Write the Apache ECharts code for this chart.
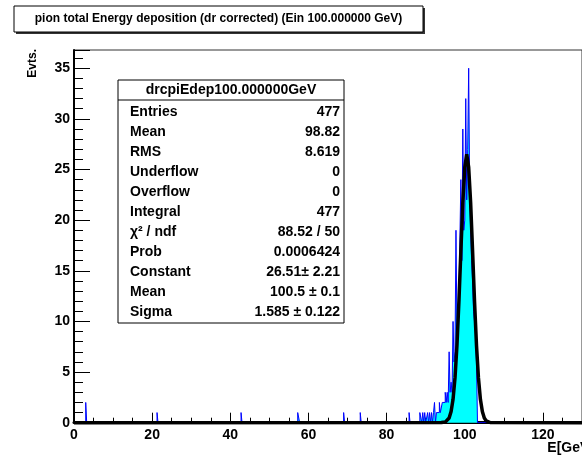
<!DOCTYPE html>
<html>
<head>
<meta charset="utf-8">
<script src="https://cdn.jsdelivr.net/npm/echarts@6/dist/echarts.min.js"></script>
<style>
  html, body { margin: 0; padding: 0; background: #fff; overflow: hidden; }
  #chart { width: 582px; height: 459px; }
</style>
</head>
<body>
<div id="chart"></div>
<script>
// histogram: lower bin edges (GeV) and entries, bin width 0.25 GeV
const binWidth = 0.25
const binLow = [
  3.0, 21.25, 42.75, 57.25, 57.5, 69.0, 73.25, 85.75,
  88.5, 88.75, 89.25, 89.75, 90.5, 91.0, 91.5, 92.0, 92.25, 92.75,
  93.0, 93.25, 93.5, 93.75, 94.0, 94.25, 94.5, 94.75, 95.0, 95.25, 95.5, 95.75,
  96.0, 96.25, 96.5, 96.75, 97.0, 97.25, 97.5, 97.75,
  98.0, 98.25, 98.5, 98.75, 99.0, 99.25, 99.5, 99.75,
  100.0, 100.25, 100.5, 100.75, 101.0, 101.25, 101.5, 101.75,
  102.0, 102.25, 102.5, 102.75, 103.0
]
const binCount = [
  2, 1, 1, 1, 1, 1, 1, 1,
  1, 1, 1, 1, 1, 1, 1, 1, 2, 1,
  1, 1, 2, 1, 1, 2, 2, 2, 3, 2, 3, 2,
  7, 3, 4, 3, 10, 6, 7, 19,
  9, 11, 12, 12, 24, 16, 29, 19,
  20, 32, 22, 27, 35, 23, 19, 16,
  14, 11, 10, 9, 6
]

// gaussian fit curve
const fitX = [0, 94, 94.5, 95, 95.5, 96, 96.5, 97, 97.5, 98, 98.5, 99, 99.5, 100, 100.5,
  101, 101.5, 102, 102.5, 103, 103.5, 104, 104.5, 105, 105.5, 106, 106.5, 107, 130]
const fitY = [0, 0.01, 0.02, 0.06, 0.18, 0.47, 1.10, 2.31, 4.42, 7.64, 11.96, 16.94, 21.73, 25.22, 26.51,
  25.22, 21.73, 16.94, 11.96, 7.64, 4.42, 2.31, 1.10, 0.47, 0.18, 0.06, 0.02, 0.01, 0]

const xMin = 0
const xMax = 130
const yMax = 36.8

const titleText = 'pion total Energy deposition (dr corrected) (Ein 100.000000 GeV)'
const statsTitle = 'drcpiEdep100.000000GeV'
const statNames = ['Entries', 'Mean', 'RMS', 'Underflow', 'Overflow', 'Integral',
  'χ² / ndf', 'Prob', 'Constant', 'Mean', 'Sigma']
const statValues = ['477', '98.82', '8.619', '0', '0', '477',
  '88.52 / 50', '0.0006424', '26.51± 2.21', '100.5 ± 0.1', '1.585 ± 0.122']

const font = '"Liberation Sans", Arial, Helvetica, sans-serif'

const histPoints = [[xMin, 0]]
binLow.forEach((lo, i) => {
  histPoints.push([lo, binCount[i]])
  const next = binLow[i + 1]
  if (next === undefined || Math.abs(next - (lo + binWidth)) > 1e-6) {
    histPoints.push([lo + binWidth, 0])
  }
})
histPoints.push([xMax, 0])

const fitPoints = fitX.map((x, i) => [x, fitY[i]])

const statsLeft = 118
const statsTop = 80
const statsRight = 344
const statsBottom = 323

const statsTexts = []
statNames.forEach((name, i) => {
  const y = 111.7 + 20 * i
  statsTexts.push({
    type: 'text', x: 130, y: y,
    style: { text: name, fill: '#000', font: 'bold 14px ' + font, align: 'left', verticalAlign: 'middle' },
  })
  statsTexts.push({
    type: 'text', x: 340, y: y,
    style: { text: statValues[i], fill: '#000', font: 'bold 14px ' + font, align: 'right', verticalAlign: 'middle' },
  })
})

const chart = echarts.init(document.getElementById('chart'), null, { renderer: 'canvas' })

chart.setOption({
  animation: false,
  backgroundColor: '#fff',
  grid: {
    left: 74, top: 50, width: 520, height: 372.7,
    show: true, borderColor: '#333', borderWidth: 1, backgroundColor: 'transparent',
  },
  xAxis: {
    type: 'value', min: xMin, max: xMax, interval: 20,
    axisLine: { show: true, onZero: false, lineStyle: { color: '#000', width: 3 } },
    axisTick: { show: true, inside: true, length: 10, lineStyle: { color: '#000', width: 1 } },
    minorTick: { show: true, splitNumber: 4, length: 5, lineStyle: { color: '#000', width: 1 } },
    splitLine: { show: false },
    axisLabel: {
      color: '#000', fontWeight: 'bold', fontSize: 14, fontFamily: font, margin: 5,
      showMaxLabel: false,
    },
  },
  yAxis: {
    type: 'value', min: 0, max: yMax, interval: 5,
    axisLine: { show: true, lineStyle: { color: '#000', width: 2 } },
    axisTick: { show: true, inside: true, length: 16, lineStyle: { color: '#000', width: 1 } },
    minorTick: { show: true, splitNumber: 5, length: 9, lineStyle: { color: '#000', width: 1 } },
    splitLine: { show: false },
    axisLabel: {
      color: '#000', fontWeight: 'bold', fontSize: 14, fontFamily: font, margin: 4,
      showMaxLabel: false,
    },
  },
  series: [
    {
      name: 'hist',
      type: 'line',
      step: 'end',
      data: histPoints,
      showSymbol: false,
      lineStyle: { color: '#0000ff', width: 1 },
      areaStyle: { color: '#00ffff', opacity: 1 },
      z: 2,
    },
    {
      name: 'fit',
      type: 'line',
      data: fitPoints,
      showSymbol: false,
      clip: false,
      lineStyle: { color: '#000', width: 3.5 },
      z: 3,
    },
  ],
  graphic: [
    // title box with shadow
    { type: 'rect', shape: { x: 16, y: 8, width: 409, height: 26 }, style: { fill: '#333' }, z: 10 },
    { type: 'rect', shape: { x: 14, y: 6, width: 409, height: 26 }, style: { fill: '#fff', stroke: '#000', lineWidth: 1 }, z: 11 },
    {
      type: 'text', x: 218.5, y: 19, z: 12,
      style: { text: titleText, fill: '#000', font: 'bold 12px ' + font, align: 'center', verticalAlign: 'middle' },
    },
    // y axis title
    {
      type: 'text', x: 33, y: 49, rotation: Math.PI / 2, z: 12,
      style: { text: 'Evts.', fill: '#000', font: 'bold 12px ' + font, align: 'right', verticalAlign: 'middle' },
    },
    // x axis title
    {
      type: 'text', x: 594, y: 448, z: 12,
      style: { text: 'E[GeV]', fill: '#000', font: 'bold 14px ' + font, align: 'right', verticalAlign: 'middle' },
    },
    // stats box
    {
      type: 'group', z: 20,
      children: [
        { type: 'rect', shape: { x: statsLeft, y: statsTop, width: statsRight - statsLeft, height: statsBottom - statsTop },
          style: { fill: '#fff', stroke: '#000', lineWidth: 1 } },
        { type: 'line', shape: { x1: statsLeft, y1: 100, x2: statsRight, y2: 100 }, style: { stroke: '#000', lineWidth: 1 } },
        { type: 'text', x: 231, y: 90,
          style: { text: statsTitle, fill: '#000', font: 'bold 14px ' + font, align: 'center', verticalAlign: 'middle' } },
      ].concat(statsTexts),
    },
  ],
})
</script>
</body>
</html>
